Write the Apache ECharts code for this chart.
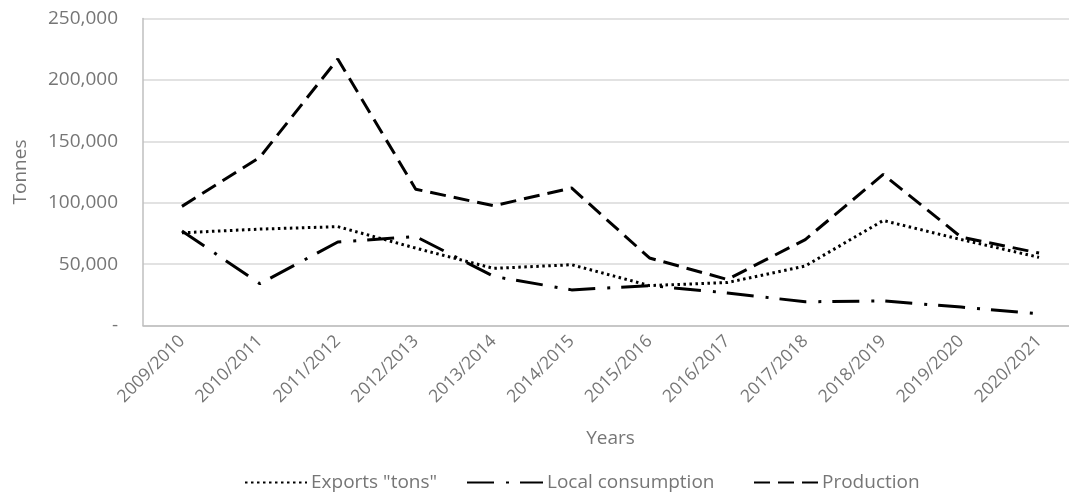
<!DOCTYPE html>
<html>
<head>
<meta charset="utf-8">
<script src="https://cdn.jsdelivr.net/npm/echarts@6/dist/echarts.min.js"></script>
<style>
  html, body { margin: 0; padding: 0; background: #fff; }
  #chart { width: 1069px; height: 501px; }
</style>
</head>
<body>
<div id="chart"></div>
<script>
// Marketing years on the category axis
const years = ['2009/2010', '2010/2011', '2011/2012', '2012/2013', '2013/2014', '2014/2015',
               '2015/2016', '2016/2017', '2017/2018', '2018/2019', '2019/2020', '2020/2021'];

// Quantities in tonnes
const exportsTons = [75500, 78500, 80500, 63000, 46500, 49500, 32500, 35000, 48500, 85500, 70000, 55500];
const localConsumption = [77000, 34000, 68000, 72500, 40000, 29000, 32500, 26500, 19300, 20000, 15000, 9500];
const production = [97000, 137000, 217000, 111000, 97500, 112000, 55000, 37500, 70000, 123000, 72000, 59000];

// Value axis ticks
const yTicks = [0, 50000, 100000, 150000, 200000, 250000];

const seriesNames = ['Exports "tons"', 'Local consumption', 'Production'];

const textColor = '#767676';
const fontFamily = '"Open Sans", "Liberation Sans", sans-serif';

const chart = echarts.init(document.getElementById('chart'), null, { renderer: 'canvas' });

function lineSeries(name, data, dash) {
  return {
    name: name,
    type: 'line',
    data: data,
    symbol: 'none',
    showSymbol: false,
    smooth: false,
    lineStyle: { color: '#000', width: 3, type: dash, cap: 'butt' },
    itemStyle: { color: '#000' }
  };
}

// One legend block per series so each key sits at its own spot along the bottom
function legendBlock(name, left, sampleWidth) {
  return {
    left: left,
    top: 468,
    itemWidth: sampleWidth,
    itemHeight: 14,
    itemGap: 6,
    itemStyle: { opacity: 0 },
    textStyle: { color: textColor, fontSize: 19, fontFamily: fontFamily, padding: [0, 0, 0, -1] },
    data: [name]
  };
}

chart.setOption({
  animation: false,
  backgroundColor: '#fff',
  textStyle: { fontFamily: fontFamily },
  grid: { left: 143, top: 18.5, width: 935, height: 307, outerBoundsMode: 'none', containLabel: false },
  legend: [
    legendBlock(seriesNames[0], 239, 62),
    legendBlock(seriesNames[1], 461, 76),
    legendBlock(seriesNames[2], 748, 64)
  ],
  xAxis: {
    type: 'category',
    data: years,
    boundaryGap: true,
    name: 'Years',
    nameLocation: 'middle',
    nameGap: 104,
    nameTextStyle: { color: textColor, fontSize: 19, fontFamily: fontFamily },
    axisLine: { show: true, lineStyle: { color: '#bfbfbf', width: 1.5 } },
    axisTick: { show: false },
    axisLabel: {
      color: textColor, fontSize: 17.5, rotate: 45, margin: 13, interval: 0,
      fontFamily: fontFamily
    },
    splitLine: { show: false }
  },
  yAxis: {
    type: 'value',
    min: yTicks[0],
    max: yTicks[yTicks.length - 1],
    interval: yTicks[1] - yTicks[0],
    name: 'Tonnes',
    nameLocation: 'middle',
    nameRotate: 90,
    nameGap: 113,
    nameTextStyle: { color: textColor, fontSize: 19, fontFamily: fontFamily },
    axisLine: { show: true, lineStyle: { color: '#bfbfbf', width: 1.5 } },
    axisTick: { show: false },
    axisLabel: {
      color: textColor, fontSize: 19, margin: 25, fontFamily: fontFamily,
      formatter: v => v === 0 ? '-' : v.toLocaleString('en-US')
    },
    splitLine: { show: true, lineStyle: { color: '#d9d9d9', width: 1.5 } }
  },
  series: [
    lineSeries(seriesNames[0], exportsTons, [2.5, 3.5]),
    lineSeries(seriesNames[1], localConsumption, [27, 12, 3, 11]),
    lineSeries(seriesNames[2], production, [16, 8])
  ]
});
</script>
</body>
</html>
